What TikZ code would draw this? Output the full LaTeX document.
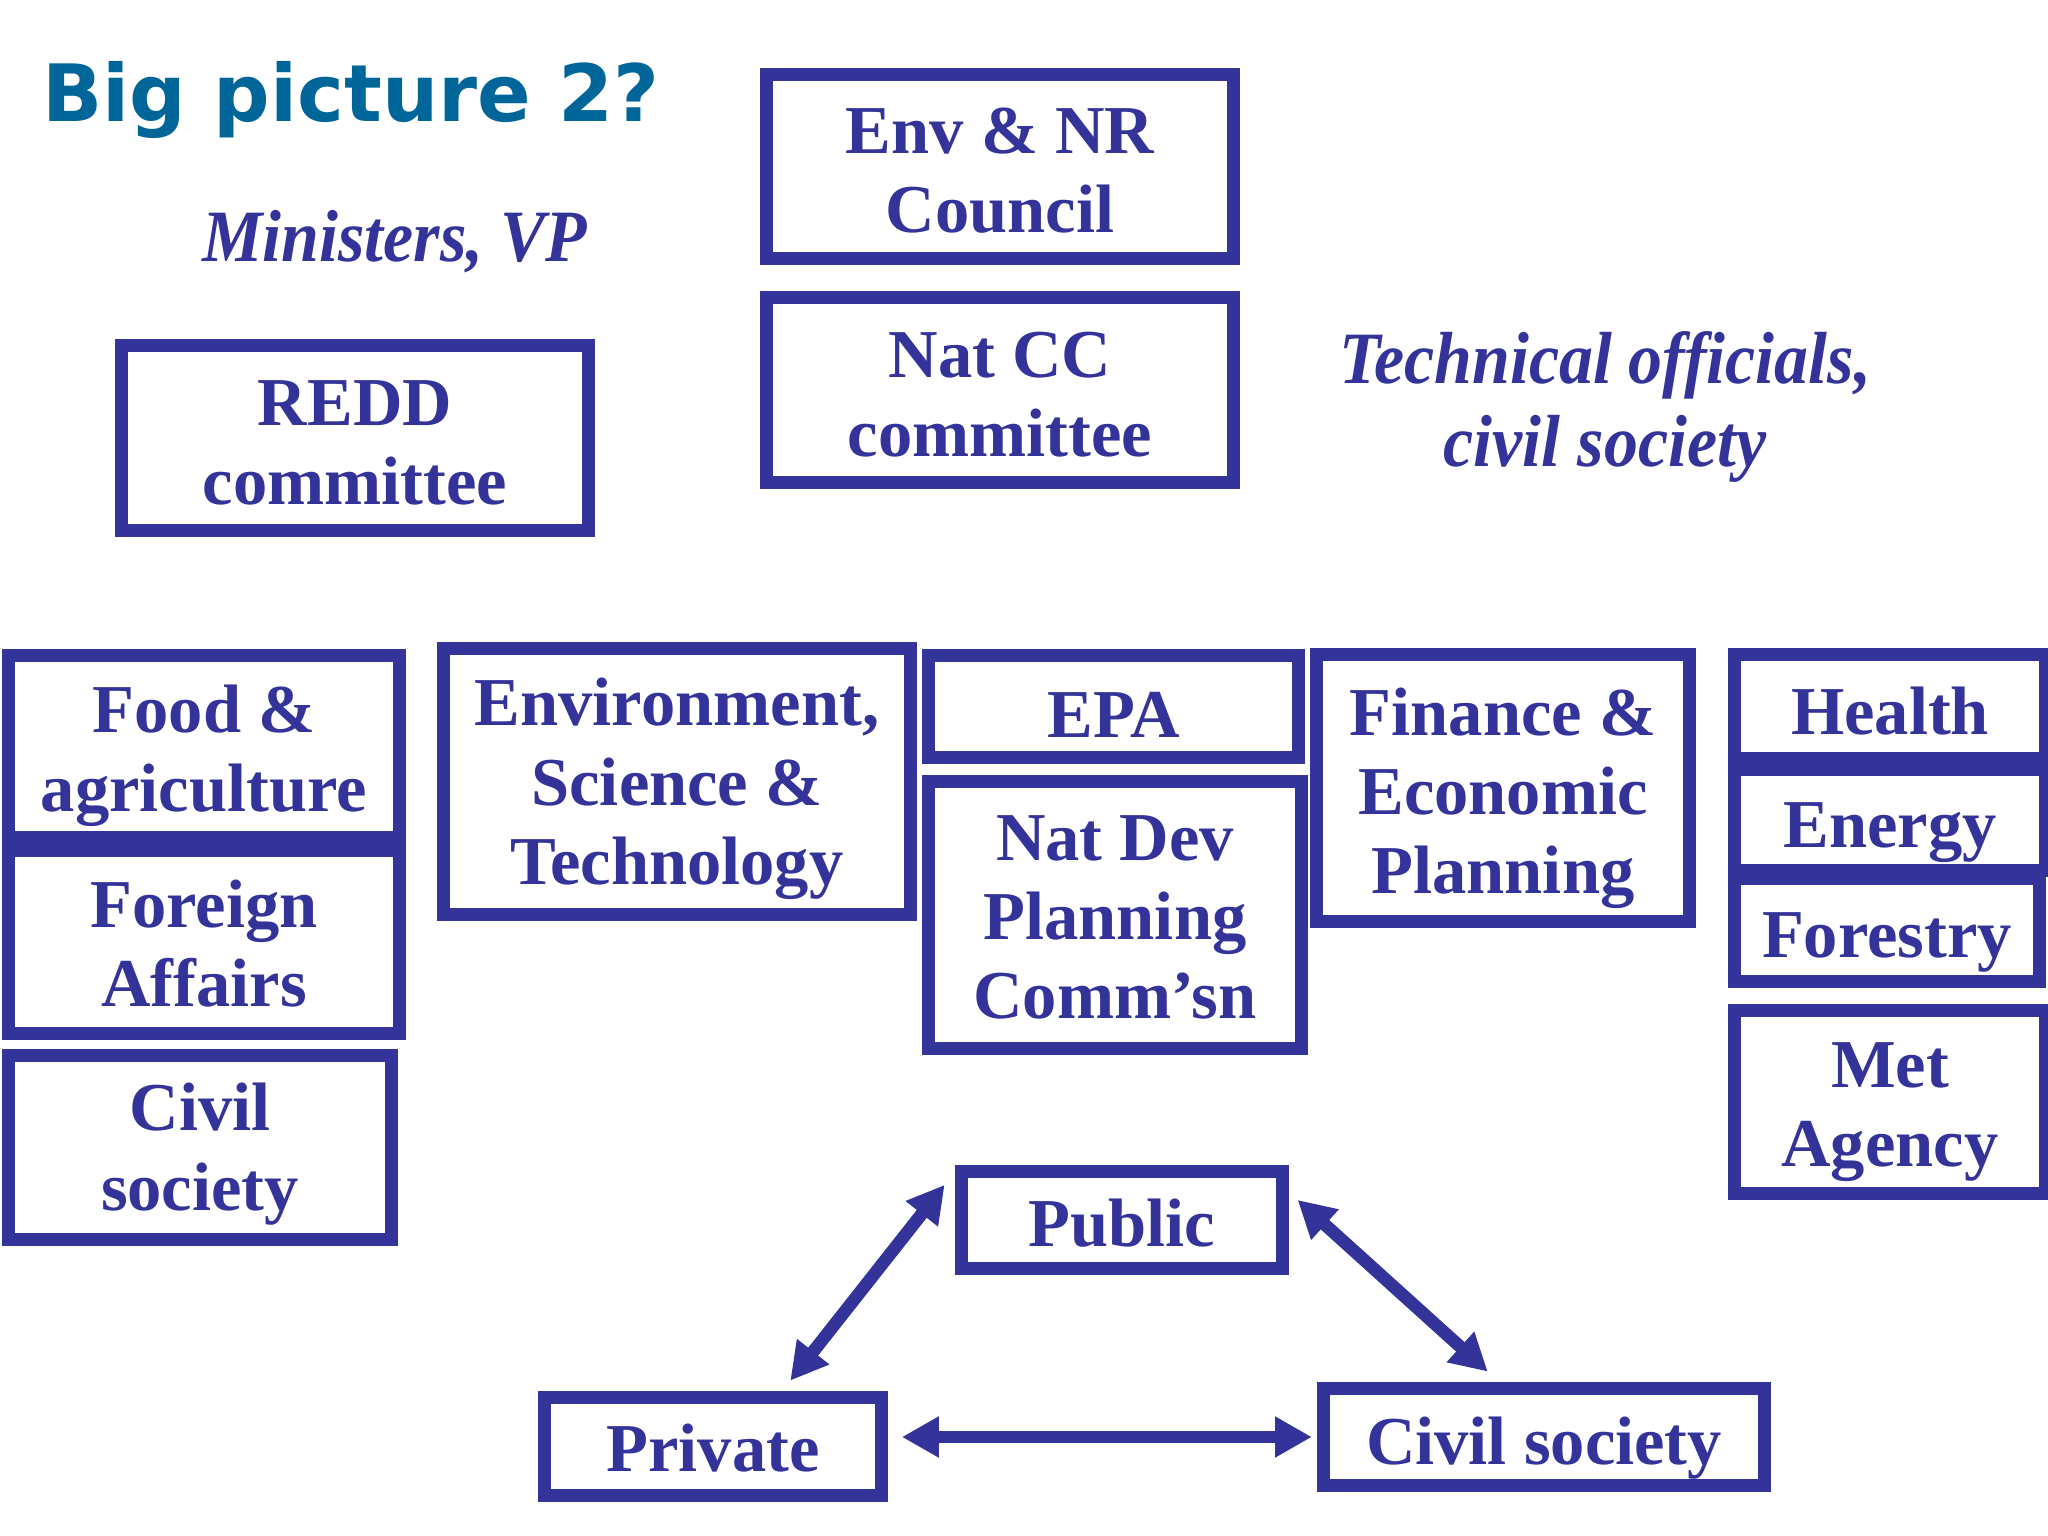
\documentclass[tikz,border=0pt]{standalone}
\usepackage{fontspec}
\usepackage{tikz}
\usetikzlibrary{arrows.meta}
\newfontfamily\boxfont{Liberation Serif}
\newfontfamily\tierfont{Liberation Serif}[FakeStretch=0.92]
\newfontfamily\titlefont{DejaVu Sans}
\definecolor{boxblue}{RGB}{51,51,153}
\definecolor{titleteal}{RGB}{0,102,153}
\newcommand{\lift}[1]{\rule{0pt}{#1}}

\begin{document}
\begin{tikzpicture}[
	unit/.style={draw=boxblue, line width=3.6pt, text=boxblue, inner sep=0pt, align=center, font=\boxfont\bfseries\fontsize{19.5}{22.5}\selectfont},
	tier/.style={text=boxblue, inner sep=0pt, align=center, font=\tierfont\bfseries\itshape\fontsize{21}{23.5}\selectfont},
	link/.style={draw=boxblue, line width=3.6pt, {Triangle[length=10.5pt,width=11pt]}-{Triangle[length=10.5pt,width=11pt]}}
	]
	\clip (0,0) rectangle (20.48,-15.36);
	\node[anchor=base west, inner sep=0pt, text=titleteal, font=\titlefont\bfseries\fontsize{22.5}{27}\selectfont] (title) at (0.415,-1.22) {Big picture 2?};
	\node[tier, anchor=base] (ministers) at (3.95,-2.62) {Ministers, VP};
	\node[tier] (technical) at (16.05,-4.07) {Technical officials,\\civil society};

	\node[unit, minimum width=4.67cm, minimum height=1.84cm] (envnr) at (10.00,-1.665) {\lift{15.1pt}Env \& NR\\Council};
	\node[unit, minimum width=4.67cm, minimum height=1.85cm] (natcc) at (10.00,-3.90) {\lift{15.8pt}Nat CC\\committee};
	\node[unit, minimum width=4.67cm, minimum height=1.85cm] (redd) at (3.55,-4.38) {\lift{15.8pt}REDD\\committee};

	\node[unit, minimum width=3.91cm, minimum height=1.82cm] (food) at (2.04,-7.465) {\lift{18.7pt}Food \&\\agriculture};
	\node[unit, minimum width=3.91cm, minimum height=1.83cm] (foreign) at (2.04,-9.42) {\lift{14.3pt}Foreign\\Affairs};
	\node[unit, minimum width=3.83cm, minimum height=1.84cm] (civil) at (2.00,-11.475) {\lift{17.3pt}Civil\\society};
	\node[unit, minimum width=4.67cm, minimum height=2.66cm] (envsci) at (6.77,-7.815) {\lift{17.7pt}Environment,\\Science \&\\Technology};
	\node[unit, minimum width=3.70cm, minimum height=1.02cm] (epa) at (11.135,-7.065) {\lift{17.5pt}EPA};
	\node[unit, minimum width=3.73cm, minimum height=2.67cm] (natdev) at (11.15,-9.15) {\lift{14.1pt}Nat Dev\\Planning\\Comm’sn};
	\node[unit, minimum width=3.73cm, minimum height=2.67cm] (finance) at (15.03,-7.88) {\lift{19.3pt}Finance \&\\Economic\\Planning};
	\node[unit, minimum width=3.11cm, minimum height=1.04cm] (health) at (18.90,-7.065) {\lift{16.1pt}Health};
	\node[unit, minimum width=3.11cm, minimum height=1.01cm] (energy) at (18.90,-8.20) {\lift{19.7pt}Energy};
	\node[unit, minimum width=3.05cm, minimum height=1.03cm] (forestry) at (18.87,-9.30) {\lift{19.7pt}Forestry};
	\node[unit, minimum width=3.11cm, minimum height=1.83cm] (met) at (18.90,-11.02) {\lift{18.7pt}Met\\Agency};

	\node[unit, minimum width=3.21cm, minimum height=0.97cm] (public) at (11.22,-12.20) {\lift{15.3pt}Public};
	\node[unit, minimum width=3.37cm, minimum height=0.98cm] (private) at (7.13,-14.465) {\lift{14.5pt}Private};
	\node[unit, minimum width=4.41cm, minimum height=0.97cm] (civsoc) at (15.44,-14.37) {\lift{19.7pt}Civil society};

	\draw[link] ([xshift=-3pt,yshift=10pt]public.west) -- ([xshift=22pt,yshift=3pt]private.north);
	\draw[link] ([xshift=2.5pt,yshift=5.7pt]public.east) -- ([xshift=-16pt,yshift=3pt]civsoc.north);
	\draw[link] ([xshift=4pt]private.east |- civsoc.west) -- ([xshift=-1.5pt]civsoc.west);
\end{tikzpicture}
\end{document}
